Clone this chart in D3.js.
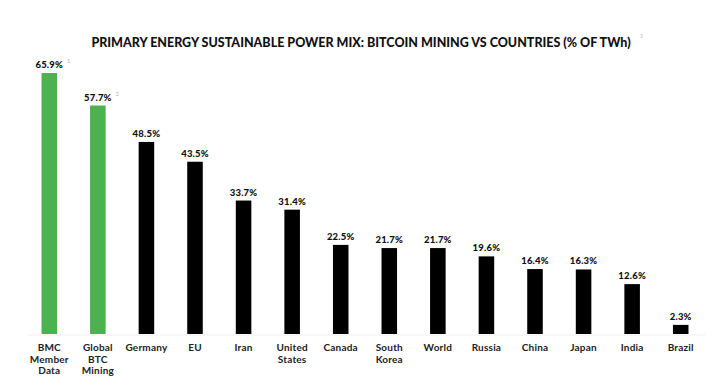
<!DOCTYPE html>
<html><head><meta charset="utf-8">
<script src="https://cdn.jsdelivr.net/npm/d3@7"></script>
<style>body{margin:0;background:#fff}svg{display:block}</style>
</head><body>
<script>
const categories = ["BMC|Member|Data","Global|BTC|Mining","Germany","EU","Iran","United|States","Canada","South|Korea","World","Russia","China","Japan","India","Brazil"];
const values = [65.9,57.7,48.5,43.5,33.7,31.4,22.5,21.7,21.7,19.6,16.4,16.3,12.6,2.3];
const isBtc = [true,true,false,false,false,false,false,false,false,false,false,false,false,false];
const footnotes = ["1","2","","","","","","","","","","","",""];
const title = "PRIMARY ENERGY SUSTAINABLE POWER MIX: BITCOIN MINING VS COUNTRIES (% OF TWh)";

const W=717,H=385;
const svg=d3.select("body").append("svg").attr("width",W).attr("height",H);
const x=d3.scaleBand().domain(d3.range(categories.length)).range([25,705]).paddingInner(0.68).paddingOuter(0.34);
const y=d3.scaleLinear().domain([0,70]).range([334,334-70*3.96]);

svg.append("line").attr("x1",28).attr("x2",705).attr("y1",y(0)+1).attr("y2",y(0)+1).attr("stroke","#eeeeee").attr("stroke-width",1);

svg.selectAll("rect.bar").data(values).join("rect").attr("class","bar")
 .attr("x",(d,i)=>x(i)).attr("width",x.bandwidth())
 .attr("y",d=>y(d)).attr("height",d=>y(0)-y(d))
 .attr("fill",(d,i)=>isBtc[i]?"#4cb14f":"#000");

svg.selectAll("text.val").data(values).join("text").attr("class","val")
 .attr("x",(d,i)=>x(i)+x.bandwidth()/2).attr("y",d=>y(d)-5)
 .attr("text-anchor","middle").attr("font-family","Lato, sans-serif").attr("font-weight","900")
 .attr("font-size","9.5px").attr("letter-spacing","0.2px").attr("fill","#111").text(d=>d.toFixed(1)+"%");

svg.selectAll("text.fn").data(values).join("text").attr("class","fn")
 .attr("x",(d,i)=>x(i)+x.bandwidth()/2+18).attr("y",d=>y(d)-10)
 .attr("font-family","Lato, sans-serif").attr("font-size","5px").attr("fill","#aaa")
 .text((d,i)=>footnotes[i]);

const cl=svg.selectAll("text.cat").data(categories).join("text").attr("class","cat")
 .attr("x",(d,i)=>x(i)+x.bandwidth()/2).attr("y",351)
 .attr("text-anchor","middle").attr("font-family","Lato, sans-serif").attr("font-weight","700")
 .attr("font-size","10px").attr("letter-spacing","0.2px").attr("fill","#222");
cl.each(function(d){
  const t=d3.select(this);
  d.split("|").forEach((s,j)=>t.append("tspan").attr("x",t.attr("x")).attr("dy",j?11.5:0).text(s));
});

svg.append("text").attr("x",361).attr("y",47).attr("text-anchor","middle")
 .attr("font-family","Lato, sans-serif").attr("font-weight","900").attr("font-size","12.5px")
 .attr("fill","#111").text(title);
svg.append("text").attr("x",640).attr("y",38).attr("font-family","Lato, sans-serif")
 .attr("font-size","5px").attr("fill","#bbb").text("3");
</script>
</body></html>
